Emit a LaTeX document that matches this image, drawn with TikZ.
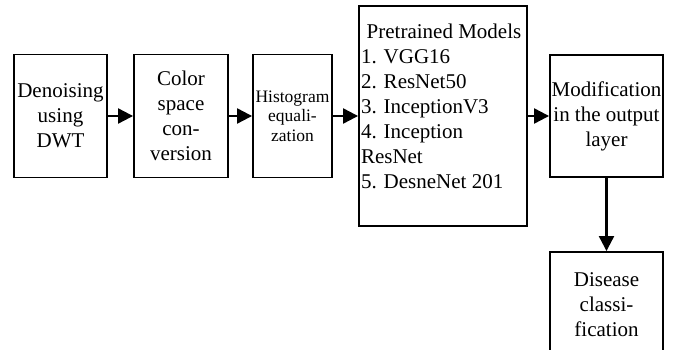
\documentclass[tikz,border=0pt]{standalone}
\usepackage{fontspec}
\setmainfont{Liberation Serif}
\usetikzlibrary{arrows.meta}
\begin{document}
\begin{tikzpicture}[x=1pt, y=-1pt,
  stage/.style={draw=black, line width=1.9pt, inner sep=0pt, align=center,
    font=\fontsize{21}{25}\selectfont},
  listtext/.style={inner sep=0pt, align=left, font=\fontsize{21}{25}\selectfont},
  flow/.style={line width=2.2pt, -{Triangle[length=15pt,width=15pt]}}]
\path[use as bounding box] (0,0) rectangle (674,350);
\clip (0,0) rectangle (674,350);

% processing stages
\node[stage, minimum width=93pt, minimum height=123pt] (dwt) at (60.5,116)
  {Denoising\\using\\DWT};
\node[stage, minimum width=94pt, minimum height=123pt] (csc) at (181,116)
  {Color\\space\\con-\\version};
\node[stage, minimum width=79pt, minimum height=123pt,
  font=\fontsize{17.5}{19.5}\selectfont] (heq) at (292.5,116)
  {Histogram\\equali-\\zation};
\node[stage, minimum width=168pt, minimum height=220pt] (ptm) at (443,116) {};
\node[listtext] (ptmlist) at (444,106.5)
  {\makebox[166pt][c]{Pretrained Models}\\1. VGG16\\2. ResNet50\\3. InceptionV3\\4. Inception\\ResNet\\5. DesneNet 201};
\node[stage, minimum width=113pt, minimum height=122pt] (mod) at (606.5,116)
  {Modification\\in the output\\layer};
\node[stage, minimum width=113pt, minimum height=106pt] (cls) at (606.5,305)
  {Disease\\classi-\\fication};

% connectors
\draw[flow] (dwt) -- (csc);
\draw[flow] (csc) -- (heq);
\draw[flow] (heq) -- (ptm);
\draw[flow] (ptm) -- (mod);
\draw[flow] (mod) -- (cls);
\end{tikzpicture}
\end{document}
